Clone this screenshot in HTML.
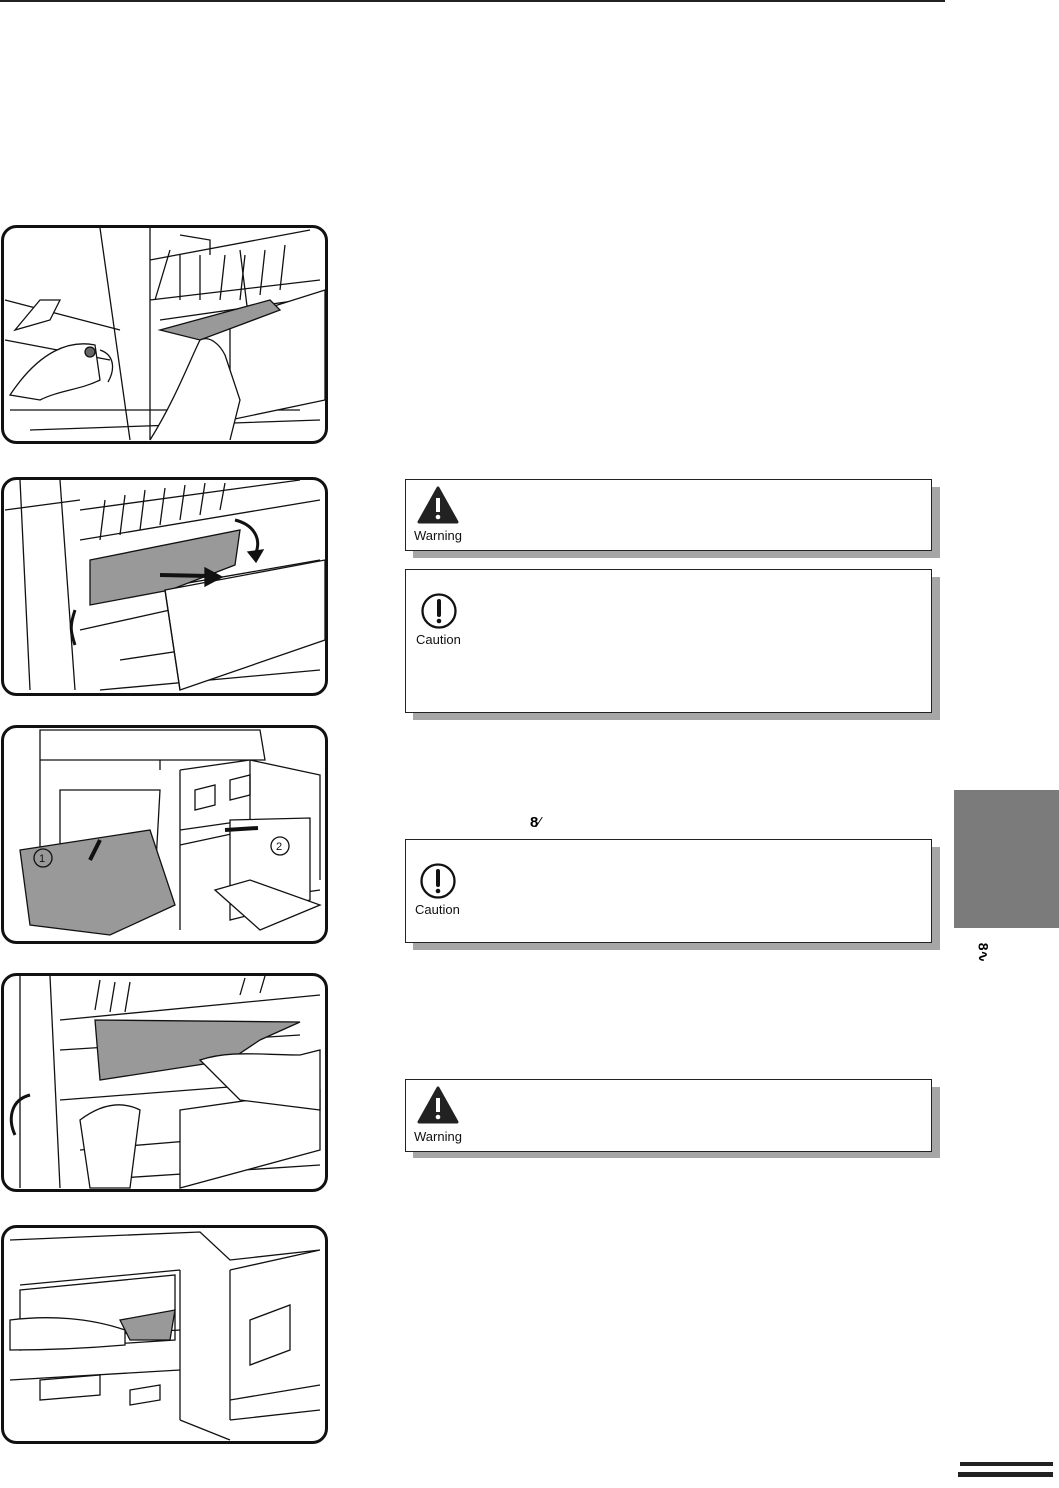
<!DOCTYPE html>
<html><head><meta charset="utf-8"><style>
html,body{margin:0;padding:0;background:#fff;}
body{width:1059px;height:1488px;position:relative;overflow:hidden;font-family:"Liberation Sans",Arial,sans-serif;}
.a{position:absolute;}
.box{position:absolute;background:#fff;border:1.5px solid #222;box-sizing:border-box;}
.sh{position:absolute;background:#a6a6a6;}
.lbl{position:absolute;font-size:13px;color:#111;}
</style></head><body>
<div class="a" style="left:0;top:0;width:945px;height:2px;background:#222"></div>

<svg class="a" style="left:0;top:0" width="1059" height="1488" viewBox="0 0 1059 1488">
<g fill="none" stroke="#111" stroke-width="1.3">
<path d="M100 228 L130 440 M150 228 L150 440 M5 300 L120 330 M5 340 L110 360 M150 260 L310 230 M150 300 L320 280 M160 320 L300 300 M10 410 L300 410 M30 430 L320 420 M180 235 L210 240 L210 255 M240 250 L250 330 M230 345 L320 340 M250 370 L320 360"/>
<path d="M155 300 L170 250 M180 300 L180 255 M200 300 L200 255 M220 300 L225 255 M240 300 L245 255 M260 295 L265 250 M280 290 L285 245" />
<path d="M15 330 L40 300 L60 300 L50 320 Z M230 320 L325 290 L325 400 L230 420 Z" fill="#fff"/>
<path d="M160 330 L270 300 L280 310 L200 340 Z" fill="#999"/>
<path d="M10 395 C40 350 70 340 95 345 L100 380 C80 390 60 390 40 400 Z" fill="#fff"/>
<path d="M150 440 C175 400 190 360 200 340 C210 335 220 345 225 355 L240 400 L230 440" fill="#fff"/>
<path d="M100 350 C115 355 115 370 108 382"/>
<circle cx="90" cy="352" r="5" fill="#666"/>
<path d="M20 480 L30 690 M60 480 L75 690 M5 510 L80 500 M80 510 L300 480 M80 540 L320 500 M90 600 L320 560 M80 630 L170 610 M120 660 L320 630 M100 690 L320 670"/>
<path d="M100 540 L105 500 M120 535 L125 495 M140 530 L145 490 M160 525 L165 488 M180 520 L185 485 M200 515 L205 483 M220 510 L225 483"/>
<path d="M90 560 L240 530 L235 565 L170 590 L90 605 Z" fill="#999"/>
<path d="M165 590 L325 560 L325 640 L180 690 Z" fill="#fff"/>
<path d="M165 590 L180 690"/>
<path d="M160 575 L210 576" stroke-width="4"/><path d="M205 568 L222 577 L205 586 Z" fill="#111"/>
<path d="M235 520 C255 525 262 540 255 555" stroke-width="3"/><path d="M248 552 L256 562 L263 550 Z" fill="#111"/>
<path d="M75 610 C70 625 70 630 75 645" stroke-width="3"/>
<path d="M40 730 L260 730 L265 760 L40 760 Z M40 760 L40 860 M160 760 L160 770 M180 770 L250 760 L250 900 M180 770 L180 930 M250 900 L320 890 M250 760 L320 775 L320 880 M60 790 L160 790 L155 880 L60 880 Z"/>
<path d="M195 790 l20 -5 l0 20 l-20 5 Z M230 780 l20 -5 l0 20 l-20 5 Z M180 830 L250 820 M180 845 L250 830"/>
<path d="M20 850 L150 830 L175 905 L110 935 L30 925 Z" fill="#999"/>
<path d="M230 820 L310 818 L310 900 L230 920 Z" fill="#fff"/>
<path d="M215 890 L250 880 L320 905 L260 930 Z" fill="#fff"/>
<circle cx="43" cy="858" r="9"/><text x="39" y="862" font-size="11" fill="#111" stroke="none">1</text>
<circle cx="280" cy="846" r="9"/><text x="276" y="850" font-size="11" fill="#111" stroke="none">2</text>
<path d="M90 860 L100 840" stroke-width="4"/>
<path d="M258 828 L225 830" stroke-width="4"/>
<path d="M20 976 L20 1188 M50 976 L60 1188 M60 1020 L320 995 M60 1050 L300 1035 M60 1100 L320 1080 M80 1150 L320 1130 M90 1180 L320 1165"/>
<path d="M95 1010 L100 980 M110 1012 L115 982 M125 1012 L130 982 M240 995 L245 978 M260 993 L265 976"/>
<path d="M95 1020 L300 1022 L260 1040 L230 1060 L100 1080 Z" fill="#999"/>
<path d="M180 1110 L320 1090 L320 1150 L180 1188 Z" fill="#fff"/>
<path d="M200 1060 C230 1050 260 1055 300 1055 L320 1050 L320 1110 L240 1100 Z" fill="#fff"/>
<path d="M80 1120 C100 1105 120 1100 140 1110 L130 1188 L90 1188 Z" fill="#fff"/>
<path d="M30 1095 C10 1100 8 1120 15 1135" stroke-width="3"/>
<path d="M10 1240 L200 1232 L230 1260 L320 1250 M20 1285 L180 1270 M230 1270 L230 1420 M180 1270 L180 1420 M230 1270 L320 1250 M10 1340 L180 1330 M10 1380 L180 1370 M180 1420 L230 1440"/>
<path d="M20 1290 L175 1275 L175 1340 L20 1350 Z"/>
<path d="M250 1320 L290 1305 L290 1350 L250 1365 Z M230 1400 L320 1385 M230 1420 L320 1410"/>
<path d="M120 1320 L175 1310 L170 1340 L130 1340 Z" fill="#999"/>
<path d="M10 1320 C50 1315 90 1318 125 1330 L125 1345 C90 1348 50 1350 10 1350 Z" fill="#fff"/>
<path d="M40 1380 L100 1375 L100 1395 L40 1400 Z M130 1390 L160 1385 L160 1400 L130 1405 Z"/>
</g>
<g fill="none" stroke="#111" stroke-width="3">
<rect x="2.5" y="226.5" width="324" height="216" rx="14"/>
<rect x="2.5" y="478.5" width="324" height="216" rx="14"/>
<rect x="2.5" y="726.5" width="324" height="216" rx="14"/>
<rect x="2.5" y="974.5" width="324" height="216" rx="14"/>
<rect x="2.5" y="1226.5" width="324" height="216" rx="14"/>
</g>
</svg>

<div class="sh" style="left:413px;top:487px;width:527px;height:71px"></div>
<div class="box" style="left:405px;top:479px;width:527px;height:72px"></div>
<svg class="a" style="left:416px;top:486px" width="48" height="40"><path d="M22 2 L3 36 L41 36 Z" fill="#222" stroke="#222" stroke-width="3" stroke-linejoin="round"/><rect x="20" y="12" width="4" height="14" fill="#fff"/><circle cx="22" cy="31" r="2.3" fill="#fff"/></svg>
<div class="lbl" style="left:414px;top:528px">Warning</div>

<div class="sh" style="left:413px;top:577px;width:527px;height:143px"></div>
<div class="box" style="left:405px;top:569px;width:527px;height:144px"></div>
<svg class="a" style="left:420px;top:593px" width="40" height="40"><circle cx="19" cy="18" r="16.5" fill="none" stroke="#111" stroke-width="2.3"/><path d="M19 8 L19 22" stroke="#111" stroke-width="4" stroke-linecap="round"/><circle cx="19" cy="28" r="2.3" fill="#111"/></svg>
<div class="lbl" style="left:416px;top:632px">Caution</div>

<div class="a" style="left:530px;top:814px;font-size:15px;font-weight:bold">8<span style="font-weight:normal">⁄</span></div>

<div class="sh" style="left:413px;top:847px;width:527px;height:103px"></div>
<div class="box" style="left:405px;top:839px;width:527px;height:104px"></div>
<svg class="a" style="left:419px;top:863px" width="40" height="40"><circle cx="19" cy="18" r="16.5" fill="none" stroke="#111" stroke-width="2.3"/><path d="M19 8 L19 22" stroke="#111" stroke-width="4" stroke-linecap="round"/><circle cx="19" cy="28" r="2.3" fill="#111"/></svg>
<div class="lbl" style="left:415px;top:902px">Caution</div>

<div class="sh" style="left:413px;top:1087px;width:527px;height:71px"></div>
<div class="box" style="left:405px;top:1079px;width:527px;height:73px"></div>
<svg class="a" style="left:416px;top:1086px" width="48" height="40"><path d="M22 2 L3 36 L41 36 Z" fill="#222" stroke="#222" stroke-width="3" stroke-linejoin="round"/><rect x="20" y="12" width="4" height="14" fill="#fff"/><circle cx="22" cy="31" r="2.3" fill="#fff"/></svg>
<div class="lbl" style="left:414px;top:1129px">Warning</div>

<div class="a" style="left:954px;top:790px;width:105px;height:138px;background:#7b7b7b"></div>
<div class="a" style="left:973px;top:944px;font-size:14px;font-weight:bold;transform:rotate(90deg)">8∿</div>
<div class="a" style="left:960px;top:1462px;width:93px;height:4px;background:#222"></div>
<div class="a" style="left:958px;top:1472px;width:95px;height:5px;background:#222"></div>
</body></html>
